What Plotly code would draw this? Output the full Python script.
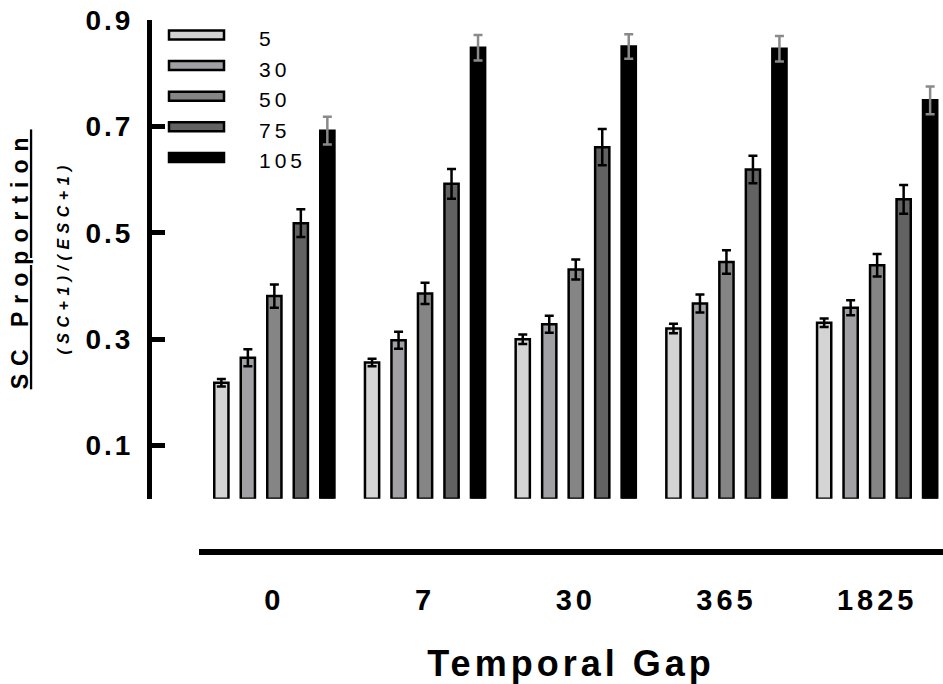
import plotly.graph_objects as go

# ---------------- data ----------------
gaps = ["0", "7", "30", "365", "1825"]
series_names = ["5", "30", "50", "75", "105"]

v5 = [0.218, 0.256, 0.300, 0.320, 0.331]
v30 = [0.265, 0.298, 0.328, 0.367, 0.359]
v50 = [0.381, 0.386, 0.431, 0.445, 0.439]
v75 = [0.518, 0.592, 0.661, 0.619, 0.563]
v105 = [0.692, 0.848, 0.850, 0.846, 0.749]

e5 = [0.007, 0.007, 0.009, 0.009, 0.008]
e30 = [0.016, 0.016, 0.016, 0.017, 0.014]
e50 = [0.022, 0.020, 0.019, 0.022, 0.021]
e75 = [0.026, 0.028, 0.034, 0.026, 0.027]
e105 = [0.026, 0.024, 0.023, 0.024, 0.026]

values = [v5, v30, v50, v75, v105]
errors = [e5, e30, e50, e75, e105]

fill_colors = ["#d4d4d4", "#a1a0a5", "#858585", "#626262", "#000000"]
err_colors = ["#000000", "#000000", "#000000", "#000000", "#8a8a8a"]

y_ticks = [0.1, 0.3, 0.5, 0.7, 0.9]

# ---------------- layout helpers ----------------
W, H = 943, 684
ML, MR, MT, MB = 149, 0, 20, 132
PW, PH = W - ML - MR, H - MT - MB
FONT = "Liberation Sans, Arial, sans-serif"


def px_x(p):
    return (p - ML) / PW


def px_y(p):
    return (H - MB - p) / PH


def spaced(text, px):
    return f'<span style="letter-spacing:{px}px">{text}</span>'


fig = go.Figure()
for name, vals, errs, fc, ec in zip(series_names, values, errors, fill_colors, err_colors):
    fig.add_trace(go.Bar(
        name=name, x=gaps, y=vals,
        marker=dict(color=fc, line=dict(color="#000000", width=2.5)),
        error_y=dict(type="data", array=errs, visible=True, color=ec,
                     thickness=2.5, width=4.5),
        showlegend=False,
    ))

# custom legend (wide flat swatches like the original)
shapes = []
annotations = []
for i, (name, fc) in enumerate(zip(series_names, fill_colors)):
    cy = 35 + i * 30.6
    shapes.append(dict(type="rect", xref="paper", yref="paper",
                       x0=px_x(169), x1=px_x(224), y0=px_y(cy + 4.5), y1=px_y(cy - 4.5),
                       fillcolor=fc, line=dict(color="#000000", width=2.5)))
    annotations.append(dict(xref="paper", yref="paper", x=px_x(257), y=px_y(cy + 3.5),
                            xanchor="left", yanchor="middle", showarrow=False,
                            text=spaced(name, 4),
                            font=dict(family=FONT, size=21, color="#000000")))

# subtitle of y axis
annotations.append(dict(xref="paper", yref="paper", x=px_x(62.5), y=px_y(258),
                        xanchor="center", yanchor="middle", showarrow=False, textangle=-90,
                        text=spaced("<b><i>(SC+1)/(ESC+1)</i></b>", 5.5),
                        font=dict(family=FONT, size=16, color="#000000")))

fig.update_layout(
    width=W, height=H,
    margin=dict(l=ML, r=MR, t=MT, b=MB, pad=0),
    paper_bgcolor="white", plot_bgcolor="white",
    barmode="group", bargap=0.121, bargroupgap=0.464,
    shapes=shapes, annotations=annotations,
    showlegend=False,
    xaxis=dict(
        type="category", domain=[px_x(199), 1], range=[-0.5, 4.437],
        anchor="free", position=0,
        showline=True, linecolor="#000000", linewidth=6,
        ticks="", showgrid=False, zeroline=False,
        tickmode="array", tickvals=gaps, ticktext=[spaced(g, 4) for g in gaps],
        tickfont=dict(family=FONT, size=29, color="#000000", weight="bold"),
        ticklabelstandoff=20,
        title=dict(text=spaced("Temporal Gap", 4), standoff=42,
                   font=dict(family=FONT, size=36, color="#000000", weight="bold")),
    ),
    yaxis=dict(
        domain=[px_y(498.75), 1], range=[0, 0.9],
        anchor="free", position=0,
        showline=True, linecolor="#000000", linewidth=5,
        ticks="inside", ticklen=13, tickwidth=5, tickcolor="#000000",
        showgrid=False, zeroline=False,
        tickmode="array", tickvals=y_ticks,
        ticktext=[spaced(f"{v:.1f}", 3) for v in y_ticks],
        tickfont=dict(family=FONT, size=28, color="#000000", weight="bold"),
        ticklabelstandoff=8,
        title=dict(text=spaced("<u>SC Proportion</u>", 8), standoff=49,
                   font=dict(family=FONT, size=23, color="#000000", weight="bold")),
    ),
)

fig.write_html("out.html")
